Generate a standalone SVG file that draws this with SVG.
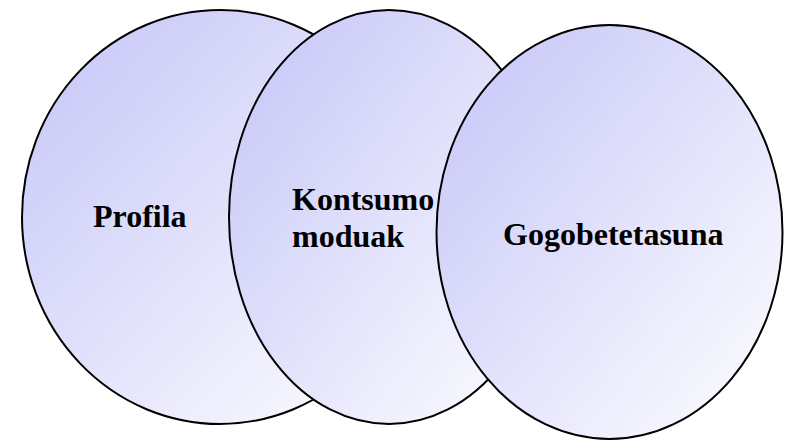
<svg xmlns="http://www.w3.org/2000/svg" width="785" height="440" viewBox="0 0 785 440">
<defs>
<linearGradient id="g" x1="0" y1="0" x2="1" y2="1">
<stop offset="0" stop-color="#c4c4f8"/>
<stop offset="1" stop-color="#ffffff"/>
</linearGradient>
<style>
.e{fill:url(#g);stroke:#000;stroke-width:2}
.t{font-weight:bold;font-size:32px;fill:#000}
</style>
</defs>
<rect width="785" height="440" fill="#fff"/>
<g id="node-profila">
<ellipse class="e" cx="220" cy="217" rx="198" ry="207"/>
<text class="t" font-family="Liberation Serif, DejaVu Serif, serif" x="93" y="227">Profila</text>
</g>
<g id="node-kontsumo">
<ellipse class="e" cx="389" cy="217" rx="160" ry="207"/>
<text class="t" font-family="Liberation Serif, DejaVu Serif, serif" x="292" y="210">Kontsumo</text>
<text class="t" font-family="Liberation Serif, DejaVu Serif, serif" x="292" y="247">moduak</text>
</g>
<g id="node-gogobetetasuna">
<ellipse class="e" cx="609.5" cy="232" rx="173" ry="207"/>
<text class="t" font-family="Liberation Serif, DejaVu Serif, serif" x="503" y="245">Gogobetetasuna</text>
</g>
<g id="connectors"/>
</svg>
